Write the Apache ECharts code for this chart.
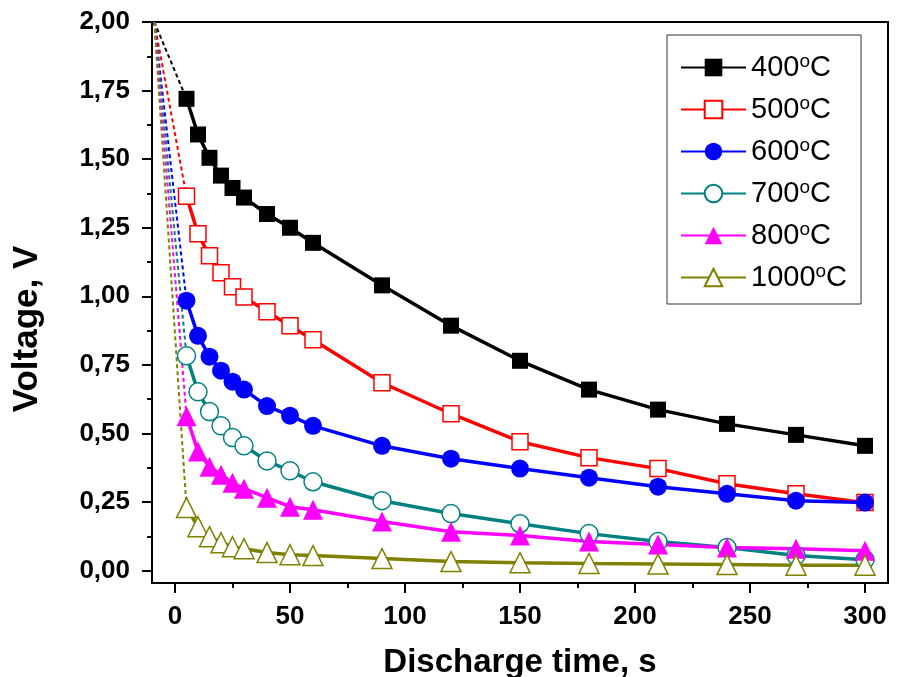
<!DOCTYPE html>
<html lang="en">
<head>
    <meta charset="UTF-8">
    <title>Discharge</title>
    <script src="https://cdn.jsdelivr.net/npm/echarts@6/dist/echarts.min.js"></script>
    <style>
        html, body { margin: 0; padding: 0; background: #fff; }
        #chart { width: 898px; height: 677px; }
    </style>
</head>
<body>
<div id="chart"></div>
<script>
    // discharge time, s
    var times = [5, 10, 15, 20, 25, 30, 40, 50, 60, 90, 120, 150, 180, 210, 240, 270, 300];
    var names = ['400°C', '500°C', '600°C', '700°C', '800°C', '1000°C'];
    var v400 = [1.72, 1.59, 1.505, 1.44, 1.395, 1.36, 1.30, 1.25, 1.195, 1.04, 0.893, 0.765, 0.66, 0.587, 0.535, 0.495, 0.455];
    var v500 = [1.365, 1.228, 1.148, 1.086, 1.035, 0.998, 0.944, 0.893, 0.842, 0.685, 0.572, 0.47, 0.412, 0.372, 0.317, 0.28, 0.248];
    var v600 = [0.984, 0.856, 0.78, 0.729, 0.689, 0.66, 0.60, 0.565, 0.528, 0.455, 0.408, 0.372, 0.339, 0.306, 0.28, 0.255, 0.248];
    var v700 = [0.783, 0.652, 0.58, 0.528, 0.485, 0.455, 0.40, 0.364, 0.324, 0.255, 0.208, 0.171, 0.135, 0.106, 0.084, 0.055, 0.04];
    var v800 = [0.563, 0.434, 0.379, 0.35, 0.32, 0.299, 0.266, 0.233, 0.222, 0.179, 0.142, 0.128, 0.106, 0.095, 0.084, 0.08, 0.073];
    var v1000 = [0.23, 0.16, 0.124, 0.102, 0.087, 0.08, 0.066, 0.058, 0.055, 0.044, 0.033, 0.029, 0.026, 0.024, 0.022, 0.02, 0.02];
    // start of the dotted lead-in lines
    var startPoint = [-9, 2.0];

    var xTicks = [0, 50, 100, 150, 200, 250, 300];
    var xMinor = [25, 75, 125, 175, 225, 275];
    var yTicks = [0, 0.25, 0.5, 0.75, 1.0, 1.25, 1.5, 1.75, 2.0];
    var yMinor = [0.125, 0.375, 0.625, 0.875, 1.125, 1.375, 1.625, 1.875];

    var values = [v400, v500, v600, v700, v800, v1000];
    var colors = ['#000000', '#ff0000', '#0000ff', '#008080', '#ff00ff', '#808000'];
    var symbols = ['rect', 'rect', 'circle', 'circle', 'triangle', 'triangle'];
    var hollow = [false, true, false, true, false, true];
    var sizes = [16, 16, 18, 18, 20, 20];

    var font = 'Liberation Sans, Arial, sans-serif';

    var series = [];
    // dotted lead-in lines first so the curves sit above them
    values.forEach(function (vals, i) {
        series.push({
            type: 'line',
            name: 'lead' + i,
            data: [startPoint, [times[0], vals[0]]],
            showSymbol: false,
            symbol: 'none',
            silent: true,
            lineStyle: { color: colors[i], width: 2, type: [4, 3] },
            z: 1
        });
    });
    values.forEach(function (vals, i) {
        series.push({
            type: 'line',
            name: names[i],
            data: times.map(function (t, k) { return [t, vals[k]]; }),
            symbol: symbols[i],
            symbolSize: sizes[i],
            showAllSymbol: true,
            lineStyle: { color: colors[i], width: 3.5 },
            itemStyle: hollow[i]
                ? { color: '#ffffff', borderColor: colors[i], borderWidth: 1.5 }
                : { color: colors[i], borderColor: colors[i], borderWidth: 0 },
            z: 2
        });
    });

    function comma(v) {
        return v.toFixed(2).replace('.', ',');
    }

    var option = {
        animation: false,
        backgroundColor: '#ffffff',
        grid: {
            left: 152, right: 10, top: 22, bottom: 94,
            outerBoundsMode: 'none',
            containLabel: false,
            show: true, borderColor: '#000', borderWidth: 2
        },
        graphic: [{
            type: 'text',
            x: 27, y: 329,
            rotation: Math.PI / 2,
            style: {
                text: 'Voltage, V',
                fontFamily: font, fontSize: 35, fontWeight: 'bold', fill: '#000',
                align: 'center', verticalAlign: 'middle'
            }
        }],
        legend: {
            data: names,
            orient: 'vertical',
            left: 667,
            top: 35,
            padding: [17, 14, 11, 13],
            itemWidth: 65,
            itemHeight: 22,
            itemGap: 11,
            borderColor: '#333',
            borderWidth: 1,
            backgroundColor: '#fff',
            formatter: function (n) { return n.replace('°C', '{s|o}C'); },
            textStyle: {
                fontFamily: font, fontSize: 29, color: '#000', lineHeight: 31,
                rich: {
                    s: { fontFamily: font, fontSize: 19, lineHeight: 19, verticalAlign: 'top', color: '#000' }
                }
            }
        },
        xAxis: [{
            type: 'value',
            min: -10, max: 310,
            name: 'Discharge time, s',
            nameLocation: 'middle',
            nameGap: 63,
            nameTextStyle: { fontFamily: font, fontSize: 33, fontWeight: 'bold', color: '#000' },
            axisLine: { show: true, onZero: false, lineStyle: { color: '#000', width: 2 } },
            axisTick: { show: true, customValues: xTicks, length: 10, lineStyle: { color: '#000', width: 2 } },
            axisLabel: {
                customValues: xTicks, margin: 21,
                fontFamily: font, fontSize: 26, fontWeight: 'bold', color: '#000'
            },
            splitLine: { show: false }
        }, {
            type: 'value',
            position: 'bottom',
            min: -10, max: 310,
            axisLine: { show: false, onZero: false },
            axisTick: { show: true, customValues: xMinor, length: 5, lineStyle: { color: '#000', width: 2 } },
            axisLabel: { show: false },
            splitLine: { show: false }
        }],
        yAxis: [{
            type: 'value',
            min: -0.045, max: 2.0,
            axisLine: { show: true, onZero: false, lineStyle: { color: '#000', width: 2 } },
            axisTick: { show: true, customValues: yTicks, length: 10, lineStyle: { color: '#000', width: 2 } },
            axisLabel: {
                customValues: yTicks, margin: 22, formatter: comma,
                fontFamily: font, fontSize: 26, fontWeight: 'bold', color: '#000'
            },
            splitLine: { show: false }
        }, {
            type: 'value',
            position: 'left',
            min: -0.045, max: 2.0,
            axisLine: { show: false, onZero: false },
            axisTick: { show: true, customValues: yMinor, length: 5, lineStyle: { color: '#000', width: 2 } },
            axisLabel: { show: false },
            splitLine: { show: false }
        }],
        series: series
    };

    var chart = echarts.init(document.getElementById('chart'));
    chart.setOption(option);
</script>
</body>
</html>
